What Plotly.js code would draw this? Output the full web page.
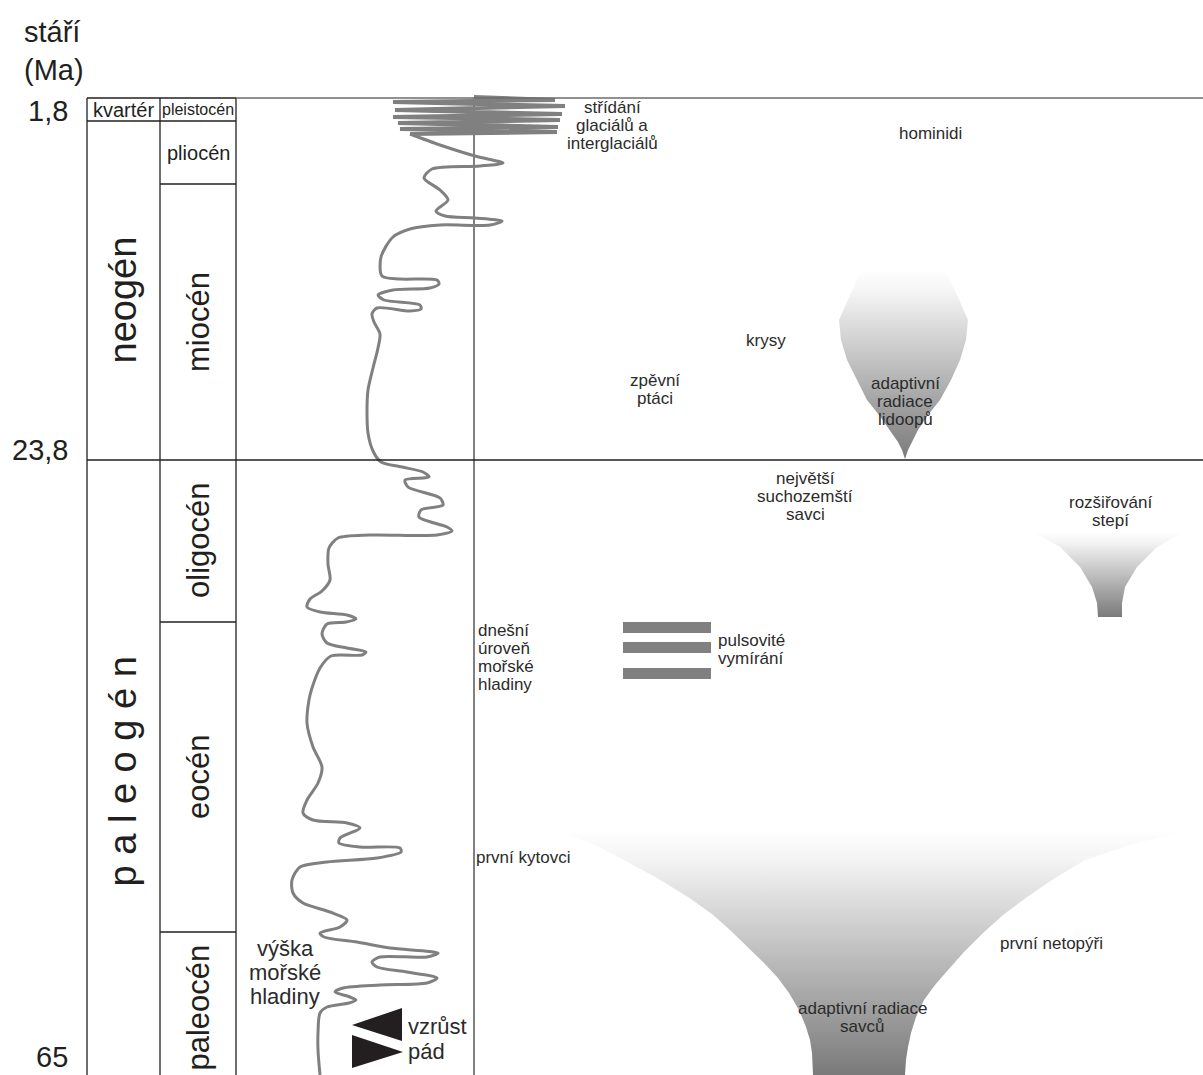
<!DOCTYPE html>
<html><head><meta charset="utf-8">
<script src="https://cdn.plot.ly/plotly-3.0.1.min.js"></script>
<style>html,body{margin:0;padding:0;background:#fff}</style>
</head><body><div id="chart" style="width:1203px;height:1075px"></div>
<script>
// ---- stratigraphic table (vertical diagram position along the time column) ----
const epochNames   = ['pleistocén','pliocén','miocén','oligocén','eocén','paleocén'];
const epochTops    = [98,121,184,460,622,932];
const epochBottoms = [121,184,460,622,932,1075];
const periodNames   = ['kvartér','neogén','p a l e o g é n'];
const periodTops    = [98,121,460];
const periodBottoms = [121,460,1075];
const ageLabels    = ['1,8','23,8','65'];
const agePositions = [111,450,1057];

// ---- sea level curve (horizontal = relative sea level, vertical = time position) ----
const glacialX = [474,555,393,565,395,562,393,560,398,558,400,557,410];
const glacialY = [97,100,102,106,110,114,117,120,123,127,129,132,134];
const seaLevelX = [410,440,475,503,480,432,424,440,448,436,445,475,502,490,440,410,393,381,382,400,437,439,430,393,378,384,420,421,410,377,372,374,380,378,373,368,367,368,373,381,402,423,429,405,408,440,443,421,419,447,452,437,370,338,329,328,330,322,310,307,320,347,356,346,327,322,327,347,366,362,331,320,312,309,307,313,322,318,307,303,313,347,360,340,339,360,400,401,377,327,300,292,293,303,330,347,340,320,324,357,390,438,427,380,372,377,407,437,427,380,343,335,350,356,349,327,320,318,318,320];
const seaLevelY = [134,145,156,163,166,169,178,190,200,211,216,218,221,225,225,229,237,257,276,279,280,284,288,290,295,300,305,309,311,308,314,322,334,348,368,390,413,433,451,462,467,472,477,480,487,498,505,510,517,527,531,535,535,538,548,564,580,591,599,607,612,615,619,622,624,634,643,648,652,655,656,668,688,700,723,747,767,783,800,813,820,823,828,838,843,847,848,852,858,862,867,880,893,903,912,920,927,933,937,942,948,953,957,957,962,967,972,978,983,985,988,992,997,1000,1003,1007,1013,1033,1050,1075];
const referenceLevelX = 474;

// ---- legend triangles (sea level rise / fall) ----
const riseTriX = [352,402,402];
const riseTriY = [1025,1008,1041];
const fallTriX = [352,352,403];
const fallTriY = [1035,1068,1052];

// ---- extinction pulses ----
const pulseLevels = [627.5,647.5,673];
const pulseStart = 623, pulseEnd = 711;

// ---- radiation funnels ----
const mammalFunnelX = [555,595,624,657,688,712,730,748,764,778,789,799,806,810,812,813, 905,906,908,911,916,924,935,948,964,983,1003,1027,1055,1085,1130,1188];
const mammalFunnelY = [830,845,860,878,897,914,930,947,963,978,993,1010,1027,1040,1053,1075, 1075,1060,1047,1033,1017,1000,985,970,952,933,915,897,878,860,845,830];
const apeFunnelX = [862,850,839,841,847,857,867,879,890,898,902,905, 908,912,918,928,940,951,960,966,968,957,945];
const apeFunnelY = [270,295,320,340,360,380,400,415,430,442,450,459, 450,442,430,415,400,380,360,340,320,295,270];
const steppeFunnelX = [1033,1060,1080,1092,1097,1098, 1122,1122,1125,1137,1157,1183];
const steppeFunnelY = [532,547,567,587,603,617, 617,603,587,567,547,532];

// ---- event labels (one entry per label, lines split) ----
const eventLines = [['střídání','glaciálů a','interglaciálů'],['hominidi'],['krysy'],['zpěvní','ptáci'],['adaptivní','radiace','lidoopů'],['největší','suchozemští','savci'],['rozšiřování','stepí'],['první kytovci'],['první netopýři'],['adaptivní radiace','savců']];
const eventX = [612,930,766,655,905,805,1110,523,1051,862];
const eventY = [107,133,340,380,383,478,502,857,943,1008];
const leftLines = [['dnešní','úroveň','mořské','hladiny'],['pulsovité','vymírání']];
const leftTextX = [476,716];
const leftTextY = [630,640];
const legendLines = ['výška','mořské','hladiny'];
const legendRise = 'vzrůst', legendFall = 'pád';

const FONT = 'Liberation Sans, Arial, sans-serif';
const INK = '#231f20';
const TXT = '#2b2b2b';
const GRAY = '#808080';

function gradFunnel(xs, ys) {
  const lo = Math.min(...ys), hi = Math.max(...ys);
  return {
    type:'scatter', mode:'lines', x: xs.concat([xs[0]]), y: ys.concat([ys[0]]),
    fill:'toself', line:{width:0, color:'rgba(0,0,0,0)'}, hoverinfo:'skip',
    fillcolor:'#bbbbbb',
    fillgradient:{type:'vertical', start: lo, stop: hi,
      colorscale:[[0,'#ffffff'],[0.12,'#f4f4f4'],[1,'#7a7a7a']]}
  };
}

const traces = [
  gradFunnel(mammalFunnelX, mammalFunnelY),
  gradFunnel(apeFunnelX, apeFunnelY),
  gradFunnel(steppeFunnelX, steppeFunnelY),
  {type:'bar', orientation:'h', y: pulseLevels, x: pulseLevels.map(()=>pulseEnd-pulseStart),
   base: pulseStart, width: 11, marker:{color:GRAY, line:{width:0}}, hoverinfo:'skip'},
  {type:'scatter', mode:'lines', x: glacialX, y: glacialY, line:{color:GRAY, width:4}, hoverinfo:'skip'},
  {type:'scatter', mode:'lines', x: seaLevelX, y: seaLevelY, line:{color:GRAY, width:3, shape:'spline', smoothing:0.8}, hoverinfo:'skip'},
  {type:'scatter', mode:'lines', x: riseTriX.concat([riseTriX[0]]), y: riseTriY.concat([riseTriY[0]]), fill:'toself', fillcolor:INK, line:{width:0}, hoverinfo:'skip'},
  {type:'scatter', mode:'lines', x: fallTriX.concat([fallTriX[0]]), y: fallTriY.concat([fallTriY[0]]), fill:'toself', fillcolor:INK, line:{width:0}, hoverinfo:'skip'}
];

const colL = 87, colM = 160, colR = 236, right = 1203;
const shapes = [];
function hline(x0,x1,y,color,w){shapes.push({type:'line',xref:'x',yref:'y',x0:x0,x1:x1,y0:y,y1:y,line:{color:color,width:w}});}
function vline(x,y0,y1,color,w){shapes.push({type:'line',xref:'x',yref:'y',x0:x,x1:x,y0:y0,y1:y1,line:{color:color,width:w}});}
[colL,colM,colR].forEach(x=>vline(x,periodTops[0],periodBottoms[periodBottoms.length-1],INK,1.3));
vline(referenceLevelX, periodTops[0], periodBottoms[periodBottoms.length-1], GRAY, 2);
hline(colL, colR, periodTops[0], INK, 1.5);
hline(colR, right, periodTops[0], '#6d6d6d', 1.5);
periodBottoms.slice(0,-1).forEach(y=>hline(colL,colM,y,INK,1.3));
epochBottoms.slice(0,-1).forEach(y=>hline(colM,colR,y,INK,1.3));
hline(colR, right, periodBottoms[1], INK, 1.3);

const ann = [];
function txt(t,x,y,size,opt,color){ann.push(Object.assign({text:t,x:x,y:y,xref:'x',yref:'y',showarrow:false,xanchor:'center',yanchor:'middle',font:{family:FONT,size:size,color:color||INK}},opt||{}));}
function block(lines,x,y,size,gap,anchor){lines.forEach((l,j)=>txt(l,x,y+j*gap,size,{xanchor:anchor||'center'},TXT));}

txt('stáří',22,32,29,{xanchor:'left'});
txt('(Ma)',22,70,29,{xanchor:'left'});
ageLabels.forEach((t,i)=>txt(t,70,agePositions[i],29,{xanchor:'right'}));
// periods
txt(periodNames[0],(colL+colM)/2,(periodTops[0]+periodBottoms[0])/2,20);
txt(periodNames[1],(colL+colM)/2-1,300,38,{textangle:-90});
txt(periodNames[2],(colL+colM)/2-1,772,38,{textangle:-90});
// epochs
txt(epochNames[0],(colM+colR)/2,(epochTops[0]+epochBottoms[0])/2,16);
txt(epochNames[1],(colM+colR)/2,(epochTops[1]+epochBottoms[1])/2,20);
[2,3,4,5].forEach(i=>txt(epochNames[i],(colM+colR)/2,(epochTops[i]+epochBottoms[i])/2+(i===5?4:0),31,{textangle:-90}));
// events
eventLines.forEach((ls,i)=>block(ls,eventX[i],eventY[i],17,18));
leftLines.forEach((ls,i)=>block(ls,leftTextX[i],leftTextY[i],17,18.3,'left'));
block(legendLines,285,948,22,24);
txt(legendRise,406,1026,22,{xanchor:'left'},TXT);
txt(legendFall,406,1051,22,{xanchor:'left'},TXT);

const layout = {
  width:1203, height:1075, margin:{l:0,r:0,t:0,b:0},
  paper_bgcolor:'#fff', plot_bgcolor:'#fff', showlegend:false,
  xaxis:{range:[0,1203], visible:false, fixedrange:true},
  yaxis:{range:[1075,0], visible:false, fixedrange:true},
  bargap:0, shapes:shapes, annotations:ann
};
Plotly.newPlot('chart', traces, layout, {displayModeBar:false, staticPlot:true});
</script></body></html>
